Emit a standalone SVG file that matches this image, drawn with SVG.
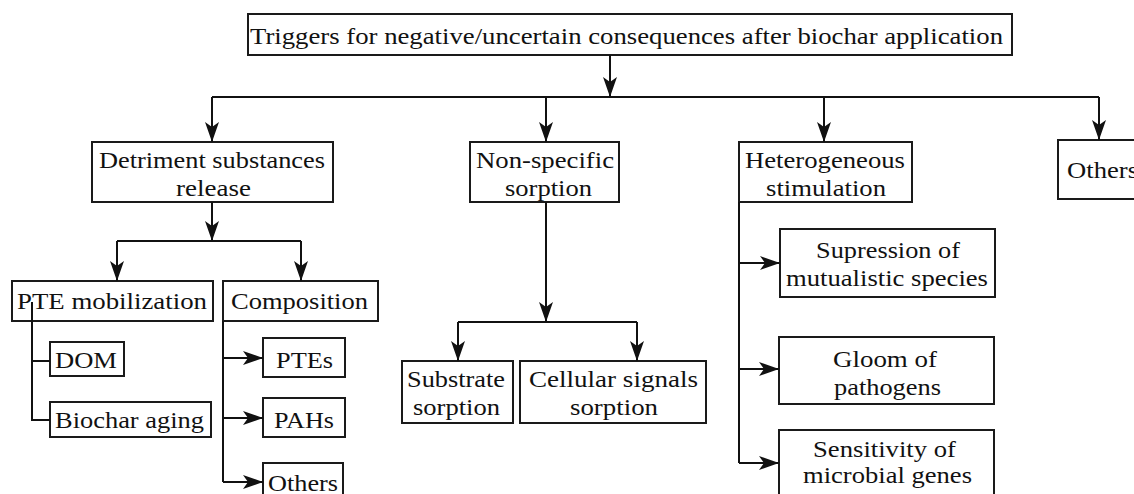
<svg xmlns="http://www.w3.org/2000/svg" width="1134" height="494" viewBox="0 0 1134 494">
<style>
rect.box{fill:#fff;stroke:#1a1a1a;stroke-width:2}
text{font-family:'Liberation Serif','Times New Roman',serif;font-size:23px;fill:#111}
.c{fill:none;stroke:#111;stroke-width:2}
.a{fill:none;stroke:#111;stroke-width:2;marker-end:url(#ah)}
</style>
<defs>
<marker id="ah" viewBox="0 -7 20 14" refX="20" refY="0" markerWidth="20" markerHeight="14" markerUnits="userSpaceOnUse" orient="auto">
<path d="M20,0 L0,-7 L5,0 L0,7 Z" fill="#111"/>
</marker>
</defs>
<rect width="1134" height="494" fill="#fff"/>
<g id="n-title"><rect class="box" x="248" y="14" width="764" height="41"/><text x="250" y="44" textLength="753" lengthAdjust="spacingAndGlyphs">Triggers for negative/uncertain consequences after biochar application</text></g>
<g id="n-detriment"><rect class="box" x="92" y="142" width="241" height="60"/><text x="99" y="168" textLength="226" lengthAdjust="spacingAndGlyphs">Detriment substances</text><text x="176" y="196" textLength="75" lengthAdjust="spacingAndGlyphs">release</text></g>
<g id="n-nonspecific"><rect class="box" x="470" y="142" width="149" height="60"/><text x="476" y="168" textLength="138" lengthAdjust="spacingAndGlyphs">Non-specific</text><text x="505" y="196" textLength="87" lengthAdjust="spacingAndGlyphs">sorption</text></g>
<g id="n-hetero"><rect class="box" x="739" y="142" width="173" height="60"/><text x="745" y="168" textLength="160" lengthAdjust="spacingAndGlyphs">Heterogeneous</text><text x="766" y="196" textLength="120" lengthAdjust="spacingAndGlyphs">stimulation</text></g>
<g id="n-others-top"><rect class="box" x="1058" y="140" width="90" height="59"/><text x="1067" y="178" textLength="71" lengthAdjust="spacingAndGlyphs">Others</text></g>
<g id="n-pte"><rect class="box" x="12" y="281" width="201" height="40"/><text x="17" y="309" textLength="190" lengthAdjust="spacingAndGlyphs">PTE mobilization</text></g>
<g id="n-composition"><rect class="box" x="223" y="281" width="155" height="40"/><text x="231" y="309" textLength="137" lengthAdjust="spacingAndGlyphs">Composition</text></g>
<g id="n-dom"><rect class="box" x="50" y="342" width="74" height="34"/><text x="55" y="368" textLength="62" lengthAdjust="spacingAndGlyphs">DOM</text></g>
<g id="n-aging"><rect class="box" x="50" y="402" width="161" height="35"/><text x="55" y="428" textLength="149" lengthAdjust="spacingAndGlyphs">Biochar aging</text></g>
<g id="n-ptes"><rect class="box" x="263" y="338" width="82" height="39"/><text x="276" y="368" textLength="57" lengthAdjust="spacingAndGlyphs">PTEs</text></g>
<g id="n-pahs"><rect class="box" x="263" y="398" width="82" height="39"/><text x="274" y="428" textLength="60" lengthAdjust="spacingAndGlyphs">PAHs</text></g>
<g id="n-others-bottom"><rect class="box" x="263" y="463" width="80" height="40"/><text x="268" y="491" textLength="70" lengthAdjust="spacingAndGlyphs">Others</text></g>
<g id="n-substrate"><rect class="box" x="402" y="361" width="111" height="62"/><text x="407" y="387" textLength="98" lengthAdjust="spacingAndGlyphs">Substrate</text><text x="413" y="415" textLength="87" lengthAdjust="spacingAndGlyphs">sorption</text></g>
<g id="n-cellular"><rect class="box" x="520" y="361" width="186" height="62"/><text x="529" y="387" textLength="169" lengthAdjust="spacingAndGlyphs">Cellular signals</text><text x="570" y="415" textLength="88" lengthAdjust="spacingAndGlyphs">sorption</text></g>
<g id="n-supression"><rect class="box" x="780" y="229" width="215" height="68"/><text x="816" y="258" textLength="144" lengthAdjust="spacingAndGlyphs">Supression of</text><text x="786" y="286" textLength="202" lengthAdjust="spacingAndGlyphs">mutualistic species</text></g>
<g id="n-gloom"><rect class="box" x="779" y="337" width="215" height="67"/><text x="833" y="367" textLength="104" lengthAdjust="spacingAndGlyphs">Gloom of</text><text x="834" y="395" textLength="107" lengthAdjust="spacingAndGlyphs">pathogens</text></g>
<g id="n-sensitivity"><rect class="box" x="779" y="430" width="215" height="72"/><text x="813" y="457" textLength="143" lengthAdjust="spacingAndGlyphs">Sensitivity of</text><text x="803" y="483" textLength="169" lengthAdjust="spacingAndGlyphs">microbial genes</text></g>
<g id="connectors">
<path class="a" d="M610,55 V97"/>
<path class="c" d="M212,97 H1099"/>
<path class="a" d="M212,97 V142"/>
<path class="a" d="M546,97 V142"/>
<path class="a" d="M824,97 V142"/>
<path class="a" d="M1099,97 V140"/>
<path class="a" d="M212,202 V241"/>
<path class="c" d="M117,241 H301"/>
<path class="a" d="M117,241 V281"/>
<path class="a" d="M301,241 V281"/>
<path class="c" d="M32,302 V420 H50 M32,361 H50"/>
<path class="c" d="M223,321 V482"/>
<path class="a" d="M223,358 H263"/>
<path class="a" d="M223,418 H263"/>
<path class="a" d="M223,482 H263"/>
<path class="a" d="M546,202 V322"/>
<path class="c" d="M458,322 H637"/>
<path class="a" d="M458,322 V361"/>
<path class="a" d="M637,322 V361"/>
<path class="c" d="M739,202 V463"/>
<path class="a" d="M739,263 H780"/>
<path class="a" d="M739,369 H779"/>
<path class="a" d="M739,463 H779"/>
</g>
</svg>
